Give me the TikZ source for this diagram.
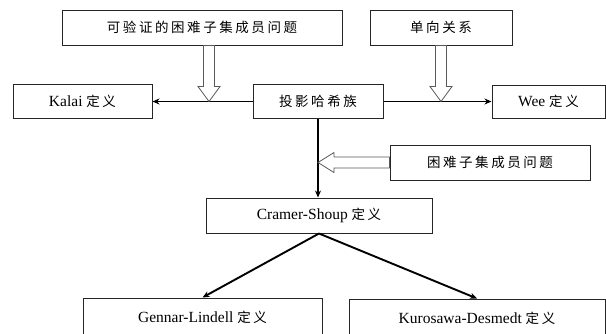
\documentclass[tikz,border=0pt]{standalone}
\usepackage{fontspec}
\setmainfont{Liberation Serif}
\newfontfamily\cjkfont{Noto Sans CJK SC}[LetterSpace=19]
\newcommand\zhtxt[1]{{\cjkfont\fontsize{13.5}{16}\selectfont #1}}
\usetikzlibrary{calc,arrows.meta}
\begin{document}
\begin{tikzpicture}[x=1pt,y=-1pt,
  box/.style={draw=black!85, line width=1pt, inner sep=0pt, font=\fontsize{15.5}{18}\selectfont},
  link/.style={line width=1.9pt, -{Stealth[length=7pt,width=6pt]}},
  hollow/.style={draw=black!65, line width=0.8pt, fill=white, line join=miter}]
\useasboundingbox (0,0) rectangle (606,333);
\clip (0,0) rectangle (606,333);
\node[box, minimum width=280, minimum height=35] (b1) at (202,27.5) {\zhtxt{可验证的困难子集成员问题}};
\node[box, minimum width=142, minimum height=35] (b2) at (441,27.5) {\zhtxt{单向关系}};
\node[box, minimum width=139, minimum height=34] (kalai) at (82.5,101.5) {Kalai \zhtxt{定义}};
\node[box, minimum width=130, minimum height=34] (proj) at (318,101.5) {\zhtxt{投影哈希族}};
\node[box, minimum width=113, minimum height=33] (wee) at (548.5,101.5) {Wee \zhtxt{定义}};
\node[box, minimum width=200, minimum height=35] (hard) at (490,162.5) {\zhtxt{困难子集成员问题}};
\node[box, minimum width=226, minimum height=35] (cs) at (319,215.5) {Cramer-Shoup \zhtxt{定义}};
\node[box, minimum width=239, minimum height=38] (gl) at (202.5,317) {Gennar-Lindell \zhtxt{定义}};
\node[box, minimum width=256, minimum height=38] (kd) at (477,318) {Kurosawa-Desmedt \zhtxt{定义}};
% solid connectors
\draw[link] (proj) -- (kalai);
\draw[link] (proj) -- (wee);
\draw[link] (proj.south) -- (proj |- cs.north);
\draw[link] (cs.south) -- (gl.north);
\draw[link] (cs.south) -- (kd.north);
% hollow arrows
\coordinate (t1) at (209,101.5);
\coordinate (t2) at (441,101.5);
\coordinate (t3) at (proj |- hard);
\draw[hollow] ($(b1.south -| t1)+(-5.5,0)$) -- ($(t1)+(-5.5,-15)$) -- ($(t1)+(-11,-15)$) -- (t1) -- ($(t1)+(11,-15)$) -- ($(t1)+(5.5,-15)$) -- ($(b1.south -| t1)+(5.5,0)$) -- cycle;
\draw[hollow] ($(b2.south -| t2)+(-5.5,0)$) -- ($(t2)+(-5.5,-15)$) -- ($(t2)+(-11,-15)$) -- (t2) -- ($(t2)+(11,-15)$) -- ($(t2)+(5.5,-15)$) -- ($(b2.south -| t2)+(5.5,0)$) -- cycle;
\draw[hollow] ($(hard.west |- t3)+(0,-5.5)$) -- ($(t3)+(16,-5.5)$) -- ($(t3)+(16,-10)$) -- (t3) -- ($(t3)+(16,10)$) -- ($(t3)+(16,5.5)$) -- ($(hard.west |- t3)+(0,5.5)$) -- cycle;
\end{tikzpicture}
\end{document}
